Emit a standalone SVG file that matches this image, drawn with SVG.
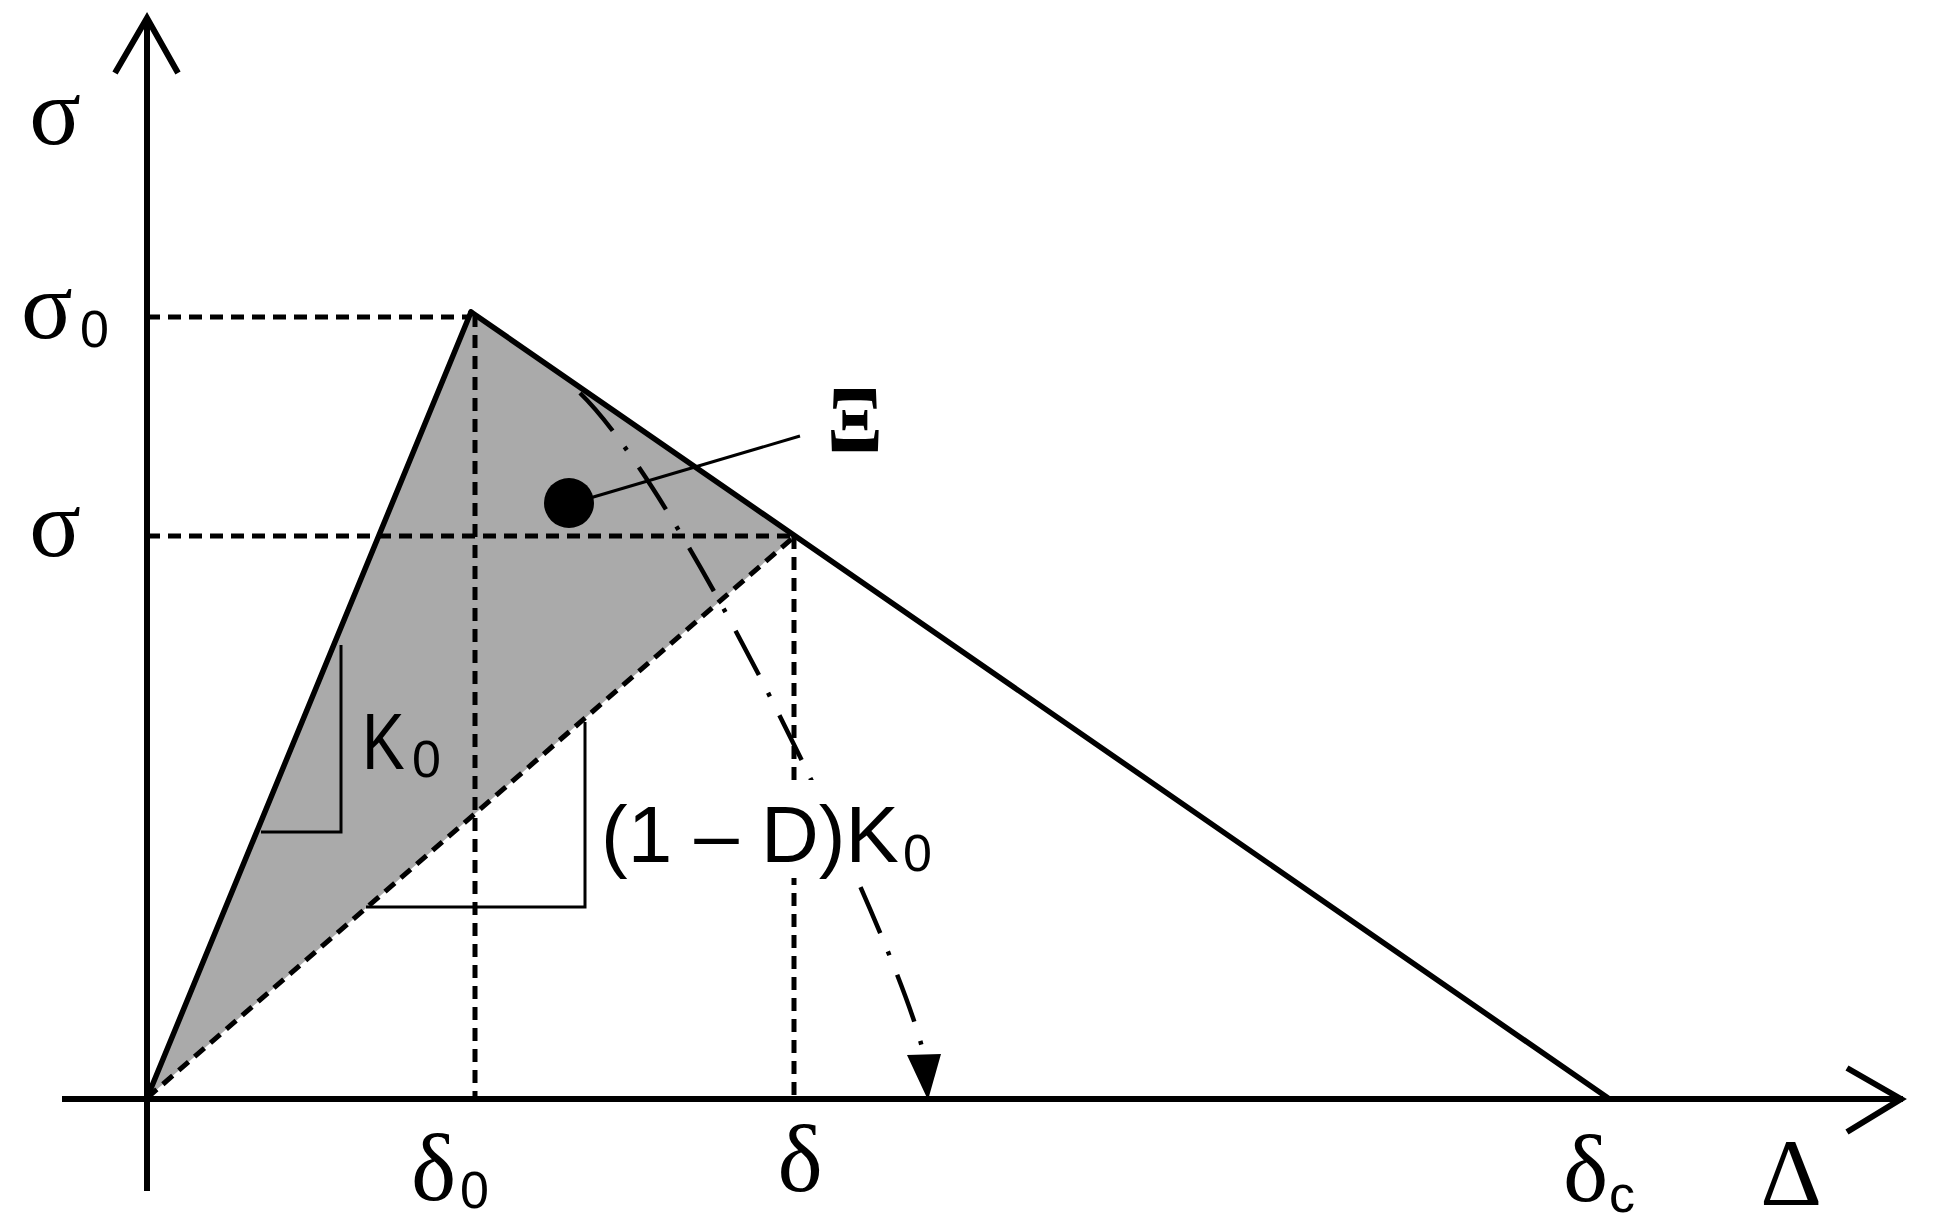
<svg xmlns="http://www.w3.org/2000/svg" width="1935" height="1227" viewBox="0 0 1935 1227">
<style>
.ax{stroke:#000;stroke-width:6;fill:none}
.solid{stroke:#000;stroke-width:5.5;fill:none;stroke-linecap:round}
.dash{stroke:#000;stroke-width:5;fill:none;stroke-dasharray:13 8}
.thin{stroke:#000;stroke-width:3;fill:none}
.dd{stroke:#000;stroke-width:4.5;fill:none;stroke-dasharray:50 20 4 21}
.serif{font-family:"Liberation Serif","DejaVu Serif",serif;font-size:96px;fill:#000}
.sans{font-family:"Liberation Sans",Arial,sans-serif;font-size:80px;fill:#000}
.sub{font-family:"Liberation Sans",Arial,sans-serif;font-size:52px;fill:#000}
</style>
<rect width="1935" height="1227" fill="#fff"/>
<g id="area">
<polygon points="147,1098 471,312 795,536" fill="#aaaaaa"/>
</g>
<g id="connectors">
<line class="dash" x1="147" y1="317" x2="471" y2="317"/>
<line class="dash" x1="147" y1="536" x2="795" y2="536"/>
<line class="dash" x1="475" y1="314" x2="475" y2="1098"/>
<line class="dash" x1="794" y1="536" x2="794" y2="1098"/>
<line class="dash" x1="147" y1="1098" x2="795" y2="536"/>
<line class="solid" x1="147" y1="1098" x2="471" y2="312"/>
<line class="solid" x1="471" y1="312" x2="1608" y2="1098"/>
<polyline class="thin" points="341,645 341,832 261,832"/>
<polyline class="thin" points="585,722 585,907 366,907"/>
<path class="dd" d="M580,393 C690,500 905,960 924,1056"/>
<polygon points="907,1055 941,1054 928,1100" fill="#000"/>
<line class="thin" x1="590" y1="498" x2="800" y2="436"/>
</g>
<g id="axes">
<line class="ax" x1="147" y1="18" x2="147" y2="1191"/>
<polyline class="ax" points="115,73 147,18 178,73"/>
<line class="ax" x1="62" y1="1099" x2="1903" y2="1099"/>
<polyline class="ax" points="1847,1068 1901,1099 1847,1132"/>
</g>
<g id="point">
<circle cx="569" cy="503" r="25" fill="#000"/>
</g>
<g id="labels">
<text class="serif" x="55" y="144" text-anchor="middle">σ</text>
<text><tspan class="serif" x="21" y="338">σ</tspan><tspan class="sub" x="80" y="347">0</tspan></text>
<text class="serif" x="55" y="556" text-anchor="middle">σ</text>
<rect x="598" y="780" width="340" height="98" fill="#fff"/>
<text class="sans" x="0" y="0" transform="translate(362,769) scale(0.8,1)">K</text>
<text class="sub" x="412" y="777">0</text>
<text><tspan class="sans" x="601" y="862">(1 – D)K</tspan><tspan class="sub" x="903" y="871">0</tspan></text>
<text><tspan class="serif" x="411" y="1200">δ</tspan><tspan class="sub" x="460" y="1208">0</tspan></text>
<text class="serif" x="800" y="1191" text-anchor="middle">δ</text>
<text><tspan class="serif" x="1563" y="1201">δ</tspan><tspan class="sub" x="1609" y="1212">c</tspan></text>
<text class="serif" x="1791" y="1205" text-anchor="middle">Δ</text>
<text class="serif" x="855" y="452" text-anchor="middle" font-weight="bold" transform="translate(855,0) scale(0.85,1) translate(-855,0)">Ξ</text>
</g>
</svg>
